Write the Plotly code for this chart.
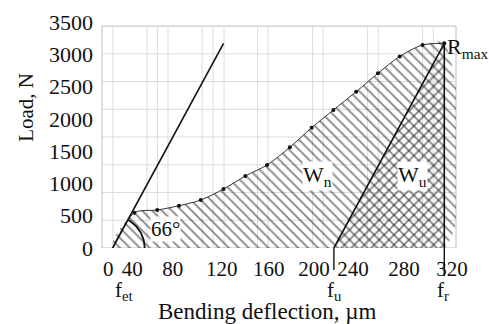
import numpy as np
import plotly.graph_objects as go

# ---- data ----
deflection = [0, 21, 43, 64, 85, 107, 128, 149, 171, 192, 213, 235, 256, 277, 299, 320]
load = [0, 547, 588, 655, 743, 914, 1115, 1286, 1560, 1863, 2137, 2421, 2706, 2967, 3144, 3170]

tangent_x = [0, 107]
tangent_load = [0, 3170]

f_et = 0
f_u = 213.5
f_r = 320
R_max = 3170

x_tick_pos = [-4.3, 18.9, 58.0, 105.3, 150.7, 194.2, 231.8, 281.1, 327.5]
x_tick_labels = ["0", "40", "80", "120", "160", "200", "240", "280", "320"]
y_tick_vals = [0, 500, 1000, 1500, 2000, 2500, 3000, 3500]
y_tick_labels = ["0", "500", "1000", "1500", "2000", "2500", "3000", "3500"]

grid_x = [0.3, 33.1, 43.2, 53.4, 86.3, 96.9, 107.5, 139.8, 150.0, 192.9, 203.1, 246.0, 256.3, 299.1, 309.4]
frame_top = 3437

FONT = "Liberation Serif"
INK = "#111111"
HATCH = "#111111"

fig = go.Figure()

# W_n region: diagonal hatch "\"
fig.add_trace(go.Scatter(
    x=deflection + [f_r, f_et], y=load + [0, 0],
    mode="lines", line=dict(width=0, shape="spline", smoothing=0.8),
    fill="toself", fillcolor="rgba(0,0,0,0)",
    fillpattern=dict(shape="\\", size=7, solidity=0.27, fgcolor=HATCH, bgcolor="rgba(0,0,0,0)"),
    hoverinfo="skip", showlegend=False))

# W_u region: add "/" to get cross hatch
fig.add_trace(go.Scatter(
    x=[f_u, f_r, f_r, f_u], y=[0, R_max, 0, 0],
    mode="lines", line=dict(width=0),
    fill="toself", fillcolor="rgba(0,0,0,0)",
    fillpattern=dict(shape="/", size=7, solidity=0.27, fgcolor=HATCH, bgcolor="rgba(0,0,0,0)"),
    hoverinfo="skip", showlegend=False))

# load curve
fig.add_trace(go.Scatter(
    x=deflection, y=load, mode="lines",
    line=dict(color="#333333", width=1, shape="spline", smoothing=0.8),
    hoverinfo="skip", showlegend=False))
fig.add_trace(go.Scatter(
    x=deflection[1:], y=load[1:], mode="markers",
    marker=dict(color="#111111", size=4),
    hoverinfo="skip", showlegend=False))

# tangent line
fig.add_trace(go.Scatter(
    x=tangent_x, y=tangent_load, mode="lines",
    line=dict(color=INK, width=1.6), hoverinfo="skip", showlegend=False))
# unloading line and f_r line
fig.add_trace(go.Scatter(
    x=[f_u, f_r, f_r], y=[0, R_max, 0], mode="lines",
    line=dict(color=INK, width=1.6), hoverinfo="skip", showlegend=False))

# angle arc (radius in pixels, converted to axis units)
x_range = [-10.3, 331.3]
y_range = [0, 3500]
plot_w, plot_h = 354, 226
px_x = plot_w / (x_range[1] - x_range[0])
px_y = plot_h / (y_range[1] - y_range[0])
ang = np.radians(np.linspace(0, 61.5, 30))
r = 32
fig.add_trace(go.Scatter(
    x=f_et + r * np.cos(ang) / px_x, y=r * np.sin(ang) / px_y, mode="lines",
    line=dict(color=INK, width=1.8), hoverinfo="skip", showlegend=False))

shapes = []
# grid
for gx in grid_x:
    shapes.append(dict(type="line", xref="x", yref="y", x0=gx, x1=gx, y0=0, y1=frame_top,
                       line=dict(color="#dcdcdc", width=1), layer="below"))
for i in range(1, 8):
    gy = frame_top * i / 8
    shapes.append(dict(type="line", xref="x domain", yref="y", x0=0, x1=1, y0=gy, y1=gy,
                       line=dict(color="#dcdcdc", width=1), layer="below"))
# frame
shapes.append(dict(type="rect", xref="x domain", yref="y", x0=0, x1=1, y0=0, y1=frame_top,
                   line=dict(color="#bdbdbd", width=1), layer="below"))
# extension ticks below axis
shapes.append(dict(type="line", xref="x", yref="y domain", x0=f_u, x1=f_u, y0=0, y1=-0.097,
                   line=dict(color=INK, width=1.4)))
shapes.append(dict(type="line", xref="x", yref="y domain", x0=f_r, x1=f_r, y0=0, y1=-0.124,
                   line=dict(color=INK, width=1.4)))


def ann(text, x, y, size, xref="x", yref="y", **kw):
    d = dict(text=text, x=x, y=y, xref=xref, yref=yref, xanchor="center", yanchor="middle",
             showarrow=False, font=dict(family=FONT, size=size, color=INK))
    d.update(kw)
    return d


annotations = [
    ann("Load, N", -0.215, 0.624, 21, xref="paper", yref="paper", textangle=-90),
    ann("Bending deflection, µm", 0.466, -0.279, 23, xref="paper", yref="paper"),
    ann("f<sub>et</sub>", f_et + 10.6, -0.192, 21, yref="y domain"),
    ann("f<sub>u</sub>", f_u + 0.2, -0.192, 21, yref="y domain"),
    ann("f<sub>r</sub>", f_r - 1.1, -0.192, 21, yref="y domain"),
    ann("R<sub>max</sub>", f_r + 0.8, R_max - 70, 22, xanchor="left"),
    ann("W<sub>n</sub>", 197.8, 1115, 22, bgcolor="white", borderpad=0),
    ann("W<sub>u</sub>", 289, 1115, 22, bgcolor="white", borderpad=0),
    ann("66°", 51.1, 294, 21, bgcolor="white", borderpad=0),
]

fig.update_layout(
    width=489, height=324,
    margin=dict(l=102, r=33, t=22, b=76, autoexpand=False),
    paper_bgcolor="white", plot_bgcolor="white",
    shapes=shapes, annotations=annotations,
    xaxis=dict(range=x_range, showgrid=False, zeroline=False, showline=False,
               tickmode="array", tickvals=x_tick_pos, ticktext=x_tick_labels,
               ticks="", ticklabelstandoff=6, automargin=False,
               tickfont=dict(family=FONT, size=21, color=INK)),
    yaxis=dict(range=y_range, showgrid=False, zeroline=False, showline=False,
               tickmode="array", tickvals=y_tick_vals, ticktext=y_tick_labels,
               ticks="", ticklabelstandoff=8, automargin=False,
               tickfont=dict(family=FONT, size=22, color=INK)),
)

fig.write_html("out.html", config={"displayModeBar": False},
               post_script="document.body.style.margin='0';")
